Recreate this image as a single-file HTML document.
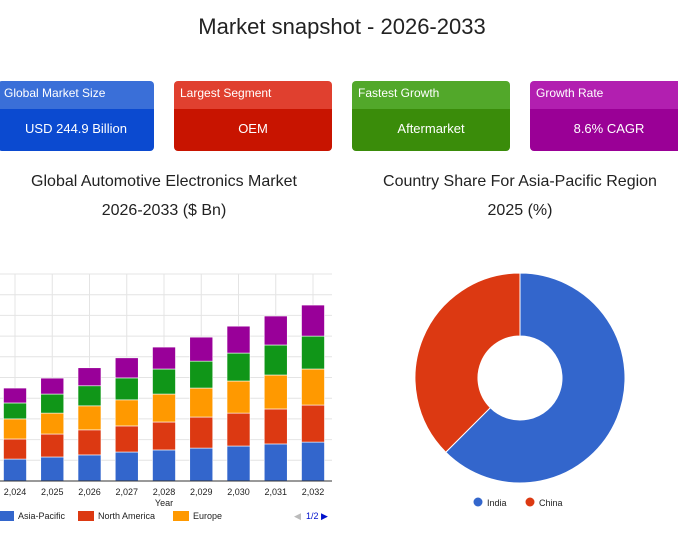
<!DOCTYPE html>
<html><head><meta charset="utf-8"><style>
body{margin:0;width:678px;height:538px;background:#fff;font-family:"Liberation Sans",sans-serif;position:relative;overflow:hidden}
.t{position:absolute;color:#222;text-align:center}
.card{position:absolute;top:81px;height:70px;border-radius:4px;overflow:hidden;color:#fff}
.card .h{height:28px;font-size:12px;line-height:24px;padding-left:6px}
.card .b{height:42px;font-size:13px;line-height:40px;text-align:center}
</style></head><body>
<div class="t" style="left:0;width:684px;top:14px;font-size:22px">Market snapshot - 2026-2033</div>
<div class="card" style="left:-2px;width:156px"><div class="h" style="background:#3a6fd8">Global Market Size</div><div class="b" style="background:#0b4ad0">USD 244.9 Billion</div></div>
<div class="card" style="left:174px;width:158px"><div class="h" style="background:#e0402f">Largest Segment</div><div class="b" style="background:#c81400">OEM</div></div>
<div class="card" style="left:352px;width:158px"><div class="h" style="background:#52a82a">Fastest Growth</div><div class="b" style="background:#3a8c0a">Aftermarket</div></div>
<div class="card" style="left:530px;width:158px"><div class="h" style="background:#b21fb0">Growth Rate</div><div class="b" style="background:#9a0096">8.6% CAGR</div></div>
<div class="t" style="left:0;width:328px;top:167px;font-size:16px;line-height:29px">Global Automotive Electronics Market<br>2026-2033 ($ Bn)</div>
<div class="t" style="left:360px;width:320px;top:167px;font-size:16px;line-height:29px">Country Share For Asia-Pacific Region<br>2025 (%)</div>
<svg id="bar" width="340" height="538" style="position:absolute;left:0;top:0"></svg>
<svg id="pie" width="678" height="538" style="position:absolute;left:0;top:0;pointer-events:none"></svg>
<script>
const years=["2,024","2,025","2,026","2,027","2,028","2,029","2,030","2,031","2,032"];
const seriesNames=["Asia-Pacific","North America","Europe","Series 4","Series 5"];
const asiaPacific=[10.6,11.6,12.6,14,15,15.9,16.9,17.9,18.8];
const northAmerica=[9.7,11.1,12.1,12.6,13.5,15,15.9,16.9,17.9];
const europe=[9.7,10.1,11.6,12.6,13.5,14,15.5,16.4,17.4];
const series4=[7.7,9.2,9.7,10.6,12.1,13,13.5,14.5,15.9];
const series5=[7.2,7.7,8.7,9.7,10.6,11.6,13,14,15];
const pieLabels=["India","China"];
const pieValues=[62.5,37.5];
const colors=["#3366cc","#dc3912","#ff9900","#109618","#990099"];
const NS="http://www.w3.org/2000/svg";
function mk(p,t,a){const e=document.createElementNS(NS,t);for(const k in a)e.setAttribute(k,a[k]);p.appendChild(e);return e;}
const bar=document.getElementById('bar');
const base=481,unit=2.07,x0=15,step=37.25,bw=23;
const yS=v=>base-v*unit, xS=i=>x0+i*step;
for(let g=0;g<=10;g++){const l=mk(bar,'line',{x1:0,x2:332,y1:yS(g*10),y2:yS(g*10),stroke:'#e4e4e4'});

}
years.forEach((y,i)=>{const l=mk(bar,'line',{x1:xS(i),x2:xS(i),y1:274,y2:base,stroke:'#e4e4e4'});

});
const all=[asiaPacific,northAmerica,europe,series4,series5];
years.forEach((y,i)=>{let acc=0;all.forEach((s,k)=>{const v=s[i];
const r=mk(bar,'rect',{x:xS(i)-bw/2,y:yS(acc+v),width:bw,height:v*unit,fill:colors[k],stroke:'#fff','stroke-width':0.6});


acc+=v;});
const t=mk(bar,'text',{x:xS(i),y:495,'text-anchor':'middle','font-size':9,fill:'#222'});t.textContent=y;

});
mk(bar,'line',{x1:0,x2:332,y1:base,y2:base,stroke:'#333'});
const xt=mk(bar,'text',{x:164,y:506,'text-anchor':'middle','font-size':9,fill:'#222'});xt.textContent='Year';


[[0,'Asia-Pacific'],[80,'North America'],[175,'Europe']].forEach(([x,n],k)=>{
const r=mk(bar,'rect',{x:x-2,y:511,width:16,height:10,fill:colors[k]});


const t=mk(bar,'text',{x:x+18,y:519,'font-size':9,fill:'#222'});t.textContent=n;

});
const pl=mk(bar,'text',{x:294,y:519,'font-size':9,fill:'#bbb'});pl.textContent='◀';


const pg=mk(bar,'text',{x:306,y:519,'font-size':9,fill:'#0011cc'});pg.textContent='1/2 ▶';


const pie=document.getElementById('pie');
const cx=520,cy=378,R=105,ri=42;const tot=pieValues.reduce((a,b)=>a+b,0);let a0=0;
pieValues.forEach((v,k)=>{const a1=a0+v/tot*2*Math.PI;
const p=(a,r)=>[cx+r*Math.sin(a),cy-r*Math.cos(a)];const lg=(a1-a0)>Math.PI?1:0;
const [x1,y1]=p(a0,R),[x2,y2]=p(a1,R),[x3,y3]=p(a1,ri),[x4,y4]=p(a0,ri);
const s=mk(pie,'path',{d:`M${x1},${y1}A${R},${R} 0 ${lg} 1 ${x2},${y2}L${x3},${y3}A${ri},${ri} 0 ${lg} 0 ${x4},${y4}Z`,fill:colors[k],stroke:'#fff','stroke-width':1});

a0=a1;});
pieLabels.forEach((n,k)=>{const x=478+k*52;
const c=mk(pie,'circle',{cx:x,cy:502,r:4.5,fill:colors[k]});


const t=mk(pie,'text',{x:x+9,y:506,'font-size':9,fill:'#222'});t.textContent=n;

});
</script>
</body></html>
